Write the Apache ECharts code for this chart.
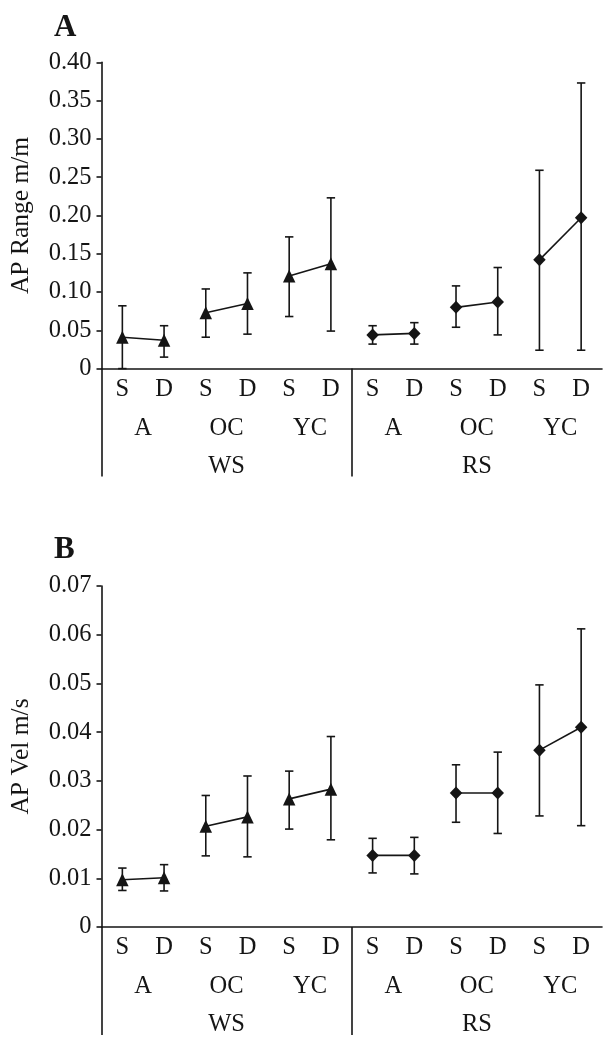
<!DOCTYPE html>
<html>
<head>
<meta charset="utf-8">
<script src="https://cdn.jsdelivr.net/npm/echarts@6/dist/echarts.min.js"></script>
<style>
html,body{margin:0;padding:0;background:#fff;}
#chart{width:613px;height:1045px;}
</style>
</head>
<body>
<div id="chart"></div>
<script>
// ---- data ----
var categories = ['S','D','S','D','S','D','S','D','S','D','S','D'];
var groups = ['A','OC','YC','A','OC','YC'];
var sites = ['WS','RS'];
var siteSymbols = ['triangle','diamond'];

var rangeMean = [0.041, 0.037, 0.073, 0.085, 0.121, 0.137, 0.044, 0.046, 0.080, 0.087, 0.142, 0.197];
var rangeLow  = [0.000, 0.015, 0.041, 0.045, 0.068, 0.049, 0.032, 0.032, 0.054, 0.044, 0.024, 0.024];
var rangeHigh = [0.082, 0.056, 0.104, 0.125, 0.172, 0.223, 0.056, 0.060, 0.108, 0.132, 0.259, 0.373];

var velMean = [0.0097, 0.0101, 0.0207, 0.0226, 0.0263, 0.0283, 0.0147, 0.0147, 0.0275, 0.0275, 0.0363, 0.0410];
var velLow  = [0.0075, 0.0074, 0.0146, 0.0144, 0.0201, 0.0179, 0.0111, 0.0109, 0.0215, 0.0192, 0.0228, 0.0208];
var velHigh = [0.0121, 0.0128, 0.0270, 0.0310, 0.0320, 0.0391, 0.0182, 0.0184, 0.0333, 0.0359, 0.0497, 0.0612];

var panels = [
  {label:'A', yName:'AP Range m/m', max:0.40, interval:0.05, mean:rangeMean, low:rangeLow, high:rangeHigh},
  {label:'B', yName:'AP Vel m/s', max:0.07, interval:0.01, mean:velMean, low:velLow, high:velHigh}
];

// ---- styles ----
var FONT = "'Liberation Serif','Times New Roman',serif";
var INK = '#151515';
var LW = 1.6;
var layout = [
  {top:62.3, height:306.3, titleTop:7},
  {top:586, height:341, titleTop:529}
];

var chart = echarts.init(document.getElementById('chart'), null, {renderer:'canvas'});

var grids = [], xAxes = [], yAxes = [], series = [], titles = [];

panels.forEach(function(p, pi){
  var L = layout[pi];
  grids.push({left:101.5, right:11, top:L.top, height:L.height});
  titles.push({text:p.label, left:49, top:L.titleTop,
    textStyle:{fontFamily:FONT, fontWeight:'bold', fontSize:31, color:INK}});

  var base = xAxes.length;
  // level 1: S / D
  xAxes.push({type:'category', gridIndex:pi, data:categories, position:'bottom', boundaryGap:true,
    axisLine:{show:true, lineStyle:{color:INK, width:LW}}, axisTick:{show:false},
    axisLabel:{fontFamily:FONT, fontSize:24.5, color:INK, margin:8, interval:0}});
  // level 2: groups
  xAxes.push({type:'category', gridIndex:pi, data:groups, position:'bottom', offset:39.5, boundaryGap:true,
    axisLine:{show:false}, axisTick:{show:false},
    axisLabel:{fontFamily:FONT, fontSize:24.5, color:INK, margin:8, interval:0}});
  // level 3: sites
  xAxes.push({type:'category', gridIndex:pi, data:sites, position:'bottom', offset:77.5, boundaryGap:true,
    axisLine:{show:false}, axisTick:{show:false},
    axisLabel:{fontFamily:FONT, fontSize:24.5, color:INK, margin:8, interval:0}});
  // divider lines between sites
  var dividers = [];
  for (var s = 0; s < sites.length; s++) dividers.push(s * categories.length / sites.length);
  xAxes.push({type:'value', gridIndex:pi, min:0, max:categories.length, position:'bottom',
    axisLine:{show:false}, splitLine:{show:false}, axisLabel:{show:false},
    axisTick:{show:true, inside:false, length:108, customValues:dividers, lineStyle:{color:INK, width:LW}}});

  yAxes.push({type:'value', gridIndex:pi, min:0, max:p.max, interval:p.interval,
    name:p.yName, nameLocation:'middle', nameGap:67, nameRotate:90,
    nameTextStyle:{fontFamily:FONT, fontSize:25.5, color:INK},
    axisLine:{show:true, lineStyle:{color:INK, width:LW}},
    axisTick:{show:true, inside:false, length:5, lineStyle:{color:INK, width:LW}},
    splitLine:{show:false},
    axisLabel:{fontFamily:FONT, fontSize:24.5, color:INK, margin:10,
      formatter:function(v){ return v === 0 ? '0' : v.toFixed(2); }}});

  // error bars
  var errData = categories.map(function(c, i){ return [i, p.low[i], p.high[i]]; });
  series.push({type:'custom', xAxisIndex:base, yAxisIndex:pi, data:errData, z:1, silent:true,
    renderItem:function(params, api){
      var lo = api.coord([api.value(0), api.value(1)]);
      var hi = api.coord([api.value(0), api.value(2)]);
      var h = 4.2;
      var st = {stroke:INK, lineWidth:LW, fill:null};
      return {type:'group', children:[
        {type:'line', shape:{x1:lo[0], y1:lo[1], x2:hi[0], y2:hi[1]}, style:st},
        {type:'line', shape:{x1:hi[0]-h, y1:hi[1], x2:hi[0]+h, y2:hi[1]}, style:st},
        {type:'line', shape:{x1:lo[0]-h, y1:lo[1], x2:lo[0]+h, y2:lo[1]}, style:st}
      ]};
    }});

  // paired lines (S-D within each group)
  var perSite = categories.length / sites.length;
  for (var g = 0; g < groups.length; g++) {
    var d = categories.map(function(c, i){
      return (i === 2*g || i === 2*g+1) ? p.mean[i] : null;
    });
    var sym = siteSymbols[Math.floor((2*g) / perSite)];
    series.push({type:'line', xAxisIndex:base, yAxisIndex:pi, data:d, z:3,
      symbol:sym, symbolSize:[12.5,13], showSymbol:true, connectNulls:false,
      lineStyle:{color:INK, width:LW}, itemStyle:{color:INK}, silent:true});
  }
});

chart.setOption({
  backgroundColor:'#ffffff',
  animation:false,
  title:titles,
  grid:grids,
  xAxis:xAxes,
  yAxis:yAxes,
  series:series
});
</script>
</body>
</html>
